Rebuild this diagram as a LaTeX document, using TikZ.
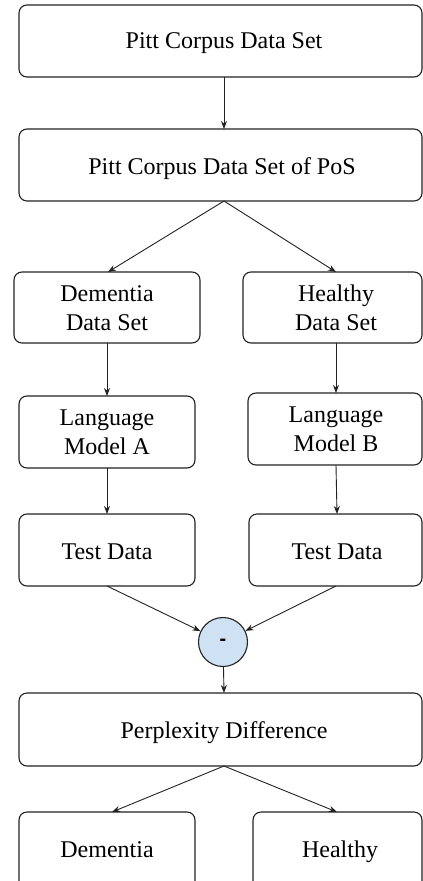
\documentclass[tikz,border=0pt]{standalone}
\usepackage{fontspec}
\setmainfont{Liberation Serif}
\newfontfamily\sansf{Liberation Sans}
\usetikzlibrary{arrows.meta}
\definecolor{circfill}{HTML}{CFE2F3}
\definecolor{linec}{HTML}{222222}
\begin{document}
\begin{tikzpicture}[x=1pt,y=-1pt,
  box/.style={draw=linec,line width=1.1pt,rounded corners=8pt},
  lbl/.style={font=\fontsize{24}{29}\selectfont,align=center,inner sep=0pt},
  bl/.style={lbl,anchor=base},
  conn/.style={draw=linec,line width=0.9pt,-{Stealth[length=8pt,width=6pt]}}]
\useasboundingbox (0,0) rectangle (423,881);
% boxes
\draw[box] (19,5) rectangle (422,77);
\node[bl] (pcds) at (224,48.5) {Pitt Corpus Data Set};
\coordinate (pcdsB) at (224,77);
\draw[box] (19,129) rectangle (422,201);
\node[bl] (pos) at (222,174) {Pitt Corpus Data Set of PoS};
\coordinate (posT) at (224,129);
\coordinate (posB) at (224,201);
\draw[box] (14,272) rectangle (200,343);
\node[lbl] (dds) at (107,308) {Dementia\\Data Set};
\coordinate (ddsT) at (108,272);
\coordinate (ddsB) at (107,343);
\draw[box] (243,272) rectangle (422,343);
\node[lbl] (hds) at (336,308) {Healthy\\Data Set};
\coordinate (hdsT) at (336,272);
\coordinate (hdsB) at (336,343);
\draw[box] (19,396) rectangle (195,468);
\node[lbl] (lma) at (107,432) {Language\\Model A};
\coordinate (lmaT) at (107,396);
\coordinate (lmaB) at (107,468);
\draw[box] (248,393) rectangle (422,465);
\node[lbl] (lmb) at (336,429) {Language\\Model B};
\coordinate (lmbT) at (336,393);
\coordinate (lmbB) at (336,465);
\draw[box] (19,514) rectangle (195,586);
\node[bl] (tda) at (107,559) {Test Data};
\coordinate (tdaT) at (107,514);
\coordinate (tdaB) at (107,586);
\draw[box] (249,514) rectangle (422,586);
\node[bl] (tdb) at (337,559) {Test Data};
\coordinate (tdbT) at (337,514);
\coordinate (tdbB) at (336,586);
\node[circle,draw=linec,line width=1.1pt,fill=circfill,minimum size=49pt,inner sep=0pt,font=\sansf\bfseries\fontsize{20}{24}\selectfont] (minus) at (223,642) {-};
\draw[box] (19,693) rectangle (422,766);
\node[bl] (pd) at (224,738.5) {Perplexity Difference};
\coordinate (pdT) at (224,693);
\coordinate (pdB) at (224,766);
\draw[box] (19,812) rectangle (195,900);
\node[bl] (dem) at (107,857) {Dementia};
\coordinate (demT) at (112,812);
\draw[box] (253,812) rectangle (422,900);
\node[bl] (hea) at (340,857) {Healthy};
\coordinate (heaT) at (337,812);
% connectors
\draw[conn] (pcdsB) -- (posT);
\draw[conn] (posB) -- (ddsT);
\draw[conn] (posB) -- (hdsT);
\draw[conn] (ddsB) -- (lmaT);
\draw[conn] (hdsB) -- (lmbT);
\draw[conn] (lmaB) -- (tdaT);
\draw[conn] (lmbB) -- (tdbT);
\draw[conn] (tdaB) -- (minus);
\draw[conn] (tdbB) -- (minus);
\draw[conn] (minus) -- (pdT);
\draw[conn] (pdB) -- (demT);
\draw[conn] (pdB) -- (heaT);
\end{tikzpicture}
\end{document}
